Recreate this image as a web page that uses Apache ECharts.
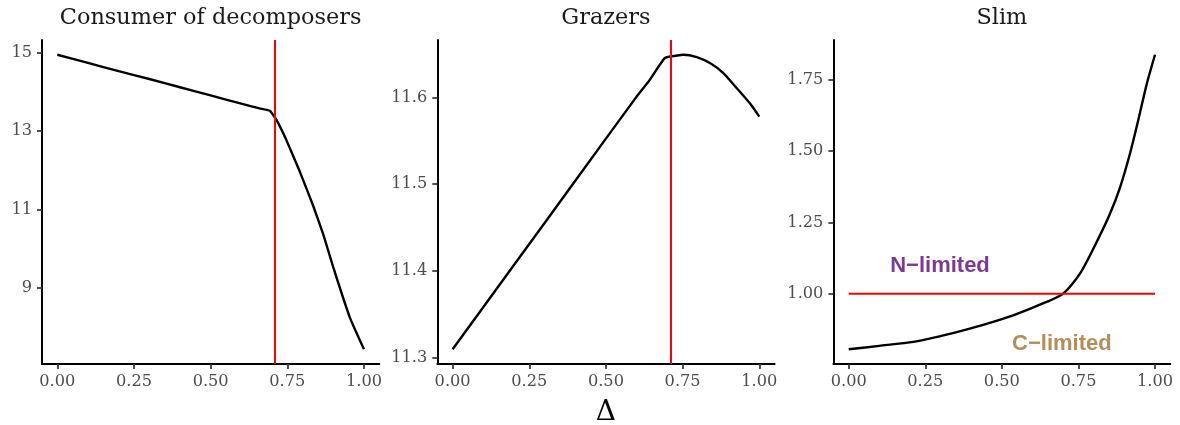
<!DOCTYPE html>
<html>
<head>
<meta charset="utf-8">
<script src="https://cdn.jsdelivr.net/npm/echarts@6/dist/echarts.min.js"></script>
<style>
  html, body { margin: 0; padding: 0; background: #ffffff; }
  #chart { width: 1180px; height: 425px; }
</style>
</head>
<body>
<div id="chart"></div>
<script>
// Panel titles
const panelTitles = ['Consumer of decomposers', 'Grazers', 'Slim'];

// Shared x axis (Δ) ticks
const deltaTicks = [0, 0.25, 0.5, 0.75, 1];

// Consumer of decomposers
const consumerX = [0, 0.1, 0.2, 0.3, 0.4, 0.5, 0.6, 0.66, 0.693, 0.715, 0.747, 0.791, 0.834, 0.867, 0.9, 0.954, 1.0];
const consumerY = [14.95, 14.74, 14.53, 14.33, 14.12, 13.91, 13.70, 13.58, 13.52, 13.28, 12.77, 11.96, 11.10, 10.37, 9.52, 8.24, 7.43];
const consumerTicks = [9, 11, 13, 15];

// Grazers
const grazerX = [0, 0.2, 0.4, 0.6, 0.6435, 0.6915, 0.714, 0.752, 0.796, 0.839, 0.883, 0.926, 0.97, 1.0];
const grazerY = [11.3095, 11.4067, 11.5039, 11.6011, 11.6207, 11.6455, 11.6475, 11.6494, 11.6467, 11.6398, 11.6283, 11.611, 11.593, 11.578];
const grazerTicks = [11.3, 11.4, 11.5, 11.6];

// Slim
const slimX = [0, 0.1, 0.211, 0.3, 0.374, 0.45, 0.537, 0.646, 0.70, 0.755, 0.815, 0.853, 0.886, 0.918, 0.945, 0.973, 1.0];
const slimY = [0.805, 0.817, 0.831, 0.851, 0.871, 0.894, 0.924, 0.971, 1.0, 1.070, 1.193, 1.280, 1.373, 1.490, 1.607, 1.735, 1.838];
const slimTicks = [1.0, 1.25, 1.5, 1.75];

// Threshold positions
const deltaThreshold = 0.713;
const slimThresholdX = [0, 1];
const slimThresholdY = [1, 1];

// Region labels on the Slim panel
const regionLabels = ['N−limited', 'C−limited'];
const regionX = [0.298, 0.696];
const regionY = [1.099, 0.825];
const regionColors = ['#7a3b98', '#b58d58'];

const zip = (xs, ys) => xs.map((x, i) => [x, ys[i]]);

// ggplot-style 5% padding around the data range
function padded(values) {
  const lo = Math.min(...values), hi = Math.max(...values);
  const pad = (hi - lo) * 0.05;
  return [lo - pad, hi + pad];
}

const SERIF = '"DejaVu Serif", "Liberation Serif", serif';
const SANS = '"Liberation Sans", Arial, sans-serif';
const TICK_SIZE = 16.2;

// Fixed panel rectangles; no automatic shrinking to fit labels
const grids = [
  { left: 42, top: 40, width: 337.3, height: 324, outerBoundsMode: 'none' },
  { left: 437.3, top: 40, width: 337.3, height: 324, outerBoundsMode: 'none' },
  { left: 833.4, top: 40, width: 336.9, height: 324, outerBoundsMode: 'none' }
];

function xAxisFor(i) {
  const ax = {
    type: 'value', gridIndex: i, min: -0.05, max: 1.05,
    splitLine: { show: false },
    axisLine: { show: true, onZero: false, lineStyle: { color: '#000', width: 2 } },
    axisTick: { show: true, length: 5, customValues: deltaTicks, lineStyle: { color: '#333', width: 1.7 } },
    axisLabel: {
      customValues: deltaTicks, margin: 10,
      formatter: v => v.toFixed(2),
      color: '#4d4d4d', fontFamily: SERIF, fontSize: TICK_SIZE
    }
  };
  if (i === 1) {
    ax.name = 'Δ';
    ax.nameLocation = 'middle';
    ax.nameGap = 35;
    ax.nameTextStyle = { color: '#000', fontFamily: SERIF, fontSize: 28 };
  }
  return ax;
}

function yAxisFor(i, values, ticks, digits) {
  const [lo, hi] = padded(values);
  return {
    type: 'value', gridIndex: i, min: lo, max: hi,
    splitLine: { show: false },
    axisLine: { show: true, onZero: false, lineStyle: { color: '#000', width: 2 } },
    axisTick: { show: true, length: 5, customValues: ticks, lineStyle: { color: '#333', width: 1.7 } },
    axisLabel: {
      customValues: ticks, margin: 10,
      formatter: v => v.toFixed(digits),
      color: '#4d4d4d', fontFamily: SERIF, fontSize: TICK_SIZE
    }
  };
}

const redLine = { color: '#ff0000', width: 2, type: 'solid' };

function verticalMark() {
  return {
    silent: true, symbol: 'none', label: { show: false },
    lineStyle: redLine,
    data: [{ xAxis: deltaThreshold }]
  };
}

const curveStyle = { color: '#000', width: 2.4 };

const option = {
  backgroundColor: '#ffffff',
  animation: false,
  title: panelTitles.map((t, i) => ({
    text: t,
    left: grids[i].left + grids[i].width / 2,
    top: 7,
    padding: 0,
    textAlign: 'center',
    textStyle: { fontFamily: SERIF, fontSize: 22.4, fontWeight: 'normal', color: '#1a1a1a' }
  })),
  grid: grids,
  xAxis: [xAxisFor(0), xAxisFor(1), xAxisFor(2)],
  yAxis: [
    yAxisFor(0, consumerY, consumerTicks, 0),
    yAxisFor(1, grazerY, grazerTicks, 1),
    yAxisFor(2, slimY, slimTicks, 2)
  ],
  series: [
    {
      type: 'line', xAxisIndex: 0, yAxisIndex: 0,
      data: zip(consumerX, consumerY), showSymbol: false, symbol: 'none',
      smooth: 0.12,
      lineStyle: curveStyle,
      markLine: verticalMark(), z: 3
    },
    {
      type: 'line', xAxisIndex: 1, yAxisIndex: 1,
      data: zip(grazerX, grazerY), showSymbol: false, symbol: 'none',
      smooth: 0.2,
      lineStyle: curveStyle,
      markLine: verticalMark(), z: 3
    },
    {
      type: 'line', xAxisIndex: 2, yAxisIndex: 2,
      data: zip(slimX, slimY), showSymbol: false, symbol: 'none',
      smooth: 0.25,
      lineStyle: curveStyle, z: 3
    },
    {
      type: 'line', xAxisIndex: 2, yAxisIndex: 2,
      data: zip(slimThresholdX, slimThresholdY), showSymbol: false, symbol: 'none',
      lineStyle: redLine, z: 4
    },
    {
      type: 'scatter', xAxisIndex: 2, yAxisIndex: 2,
      symbolSize: 0, silent: true,
      itemStyle: { opacity: 1 },
      data: regionLabels.map((t, i) => ({
        value: [regionX[i], regionY[i]],
        label: {
          show: true, position: 'inside', formatter: t,
          color: regionColors[i], fontFamily: SANS, fontWeight: 'bold', fontSize: 22
        }
      })),
      z: 5
    }
  ]
};

const chart = echarts.init(document.getElementById('chart'), null, { renderer: 'canvas' });
chart.setOption(option);
</script>
</body>
</html>
